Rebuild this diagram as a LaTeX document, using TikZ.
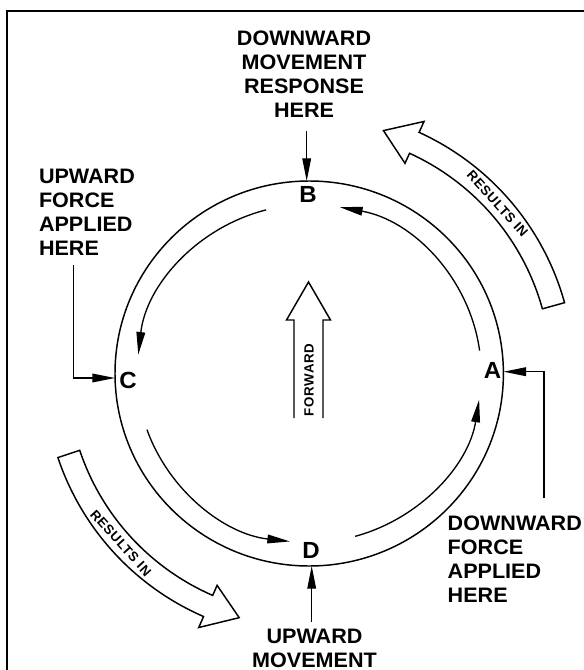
\documentclass[tikz,border=0pt]{standalone}
\usepackage{fontspec}
\setmainfont{Liberation Sans}
\newfontfamily\labelfont{Liberation Sans}[FakeStretch=1.03]
\newfontfamily\bandfont{Liberation Sans}[LetterSpace=5]
\usetikzlibrary{arrows.meta}

\tikzset{every picture/.style={line width=1.1pt}}
\tikzset{
  force/.style={line width=1pt,-{Triangle[length=17pt,width=6.5pt]}},
  lbl/.style={inner sep=0pt,font=\labelfont\bfseries\fontsize{15.7}{18}\selectfont},
  letter/.style={inner sep=0pt,font=\labelfont\bfseries\fontsize{17.5}{20}\selectfont},
  band/.style={line width=1.1pt,line join=miter},
  bandtext/.style={inner sep=0pt,font=\bandfont\bfseries\fontsize{10}{11}\selectfont},
}

\begin{document}
\begin{tikzpicture}[x=0.75pt,y=0.75pt,yscale=-1,xscale=1]
%set diagram left start at 0, and has height of 670
\path[use as bounding box] (0,0) rectangle (583,670);

%Shape: Frame
\draw [line width=1.9pt] (7,700) -- (7,11) -- (600,11);

\begin{scope}[shift={(309.2,373.5)}]
%Shape: Ellipse
\draw (0,0) ellipse [x radius=194.2, y radius=192.5];
%Curve Lines
\foreach \s/\e in {-7.8/-79.7, -104.5/-173.6, 160.6/96.4, 74.5/8.9}
  \draw [force] (\s:172 and 169) arc [start angle=\s, end angle=\e, x radius=172, y radius=169];
%Shape: Curved Block Arrows
\foreach \t/\n/\p in {-15.5/-65.5/-73, 161.5/113.5/106}
  \draw [band] (\t:265) arc [start angle=\t, end angle=\n, radius=265] -- (\n:277) -- (\p:254) -- (\n:231) -- (\n:242) arc [start angle=\n, end angle=\t, radius=242] -- cycle;
% Text Node
\node [bandtext, rotate=-48] (resultsUp) at (-42:253.5) {RESULTS IN};
% Text Node
\node [bandtext, rotate=-48] (resultsLow) at (138:253.5) {RESULTS IN};
\end{scope}

%Shape: Up Arrow
\draw (294,418) -- (294,320) -- (286.5,320) -- (308.5,282) -- (330.5,320) -- (323,320) -- (323,418);
% Text Node
\node [bandtext, rotate=90] (fwd) at (309,380) {FORWARD};

% Letter Nodes
\node [letter] (A) at (492.5,370) {A};
\node [letter] (B) at (308,194) {B};
\node [letter] (C) at (128,380) {C};
\node [letter] (D) at (311,550) {D};

% Points on the ellipse
\coordinate (pA) at (503.4,371.7);
\coordinate (pB) at (306.7,181);
\coordinate (pC) at (115,378);
\coordinate (pD) at (311.7,566);
\coordinate (kneeA) at (544,371.7);
\coordinate (kneeC) at (73.3,378);

% Text Node
\node [lbl, anchor=north, align=center] (respB) at (304,30) {DOWNWARD\\MOVEMENT\\RESPONSE\\HERE};
% Text Node
\node [lbl, anchor=north west, align=left] (upforce) at (38.3,168.3) {UPWARD\\FORCE\\APPLIED\\HERE};
% Text Node
\node [lbl, anchor=north west, align=left] (downforce) at (447,515) {DOWNWARD\\FORCE\\APPLIED\\HERE};
% Text Node
\node [lbl, anchor=north, align=center] (upmove) at (314.5,628.3) {UPWARD\\MOVEMENT};

%Straight Lines
\draw [force, shorten <=10pt] (respB.south -| pB) -- (pB);
\draw [force, shorten <=6.5pt] (upforce.south -| kneeC) -- (kneeC) -- (pC);
\draw [force, shorten <=12.5pt] (downforce.north -| kneeA) -- (kneeA) -- (pA);
\draw [force, shorten <=5pt] (upmove.north -| pD) -- (pD);

\end{tikzpicture}
\end{document}
